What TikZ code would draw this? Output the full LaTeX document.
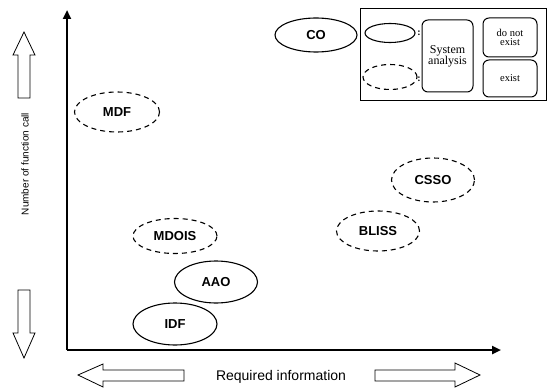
\documentclass[tikz,border=0pt]{standalone}
\usepackage{fontspec}
\setmainfont{Liberation Serif}
\setsansfont{Liberation Sans}
\usetikzlibrary{arrows.meta,shapes.geometric}
\begin{document}
\begin{tikzpicture}[x=1pt,y=-1pt,
  solidell/.style={draw,line width=1.1pt,ellipse,inner sep=0pt,font=\sffamily\bfseries\fontsize{13}{14}\selectfont},
  dashell/.style={solidell,dash pattern=on 5pt off 4pt},
  rbox/.style={draw,line width=1pt,rounded corners=6pt,align=center,inner sep=1pt,font=\fontsize{12}{11}\selectfont},
  blockarrow/.style={draw,line width=0.8pt,fill=white},
  axis/.style={line width=2.6pt,-{Triangle[length=9pt,width=8pt]}}]
\useasboundingbox (0,0) rectangle (548,390);
% axes
\coordinate (corner) at (67,350);
\coordinate (ytip) at (67,10);
\coordinate (xtip) at (501,350);
\draw[axis] (corner) -- (ytip);
\draw[axis] (corner) -- (xtip);
% vertical block arrows
\draw[blockarrow] (18,98) -- (18,55) -- (13,55) -- (24,32) -- (35,55) -- (30,55) -- (30,98) -- cycle;
\draw[blockarrow] (18,290) -- (18,333) -- (13,333) -- (24,358) -- (35,333) -- (30,333) -- (30,290) -- cycle;
\node[rotate=90,font=\sffamily\fontsize{10}{12}\selectfont] (ylab) at (25,164) {Number of function call};
% horizontal block arrows
\draw[blockarrow] (184,370) -- (103,370) -- (103,364) -- (78,375) -- (103,387) -- (103,381) -- (184,381) -- cycle;
\draw[blockarrow] (375,370) -- (455,370) -- (455,363) -- (480,375) -- (455,387) -- (455,381) -- (375,381) -- cycle;
\node[font=\sffamily\fontsize{14}{14}\selectfont] (xlab) at (281,377) {Required information};
% method ellipses
\node[solidell,minimum width=82pt,minimum height=34pt] (co) at (316,35) {CO};
\node[dashell,minimum width=85pt,minimum height=40pt] (mdf) at (117,112) {MDF};
\node[dashell,minimum width=84pt,minimum height=35pt] (mdois) at (175,236) {MDOIS};
\node[solidell,minimum width=83pt,minimum height=42pt] (aao) at (216,282) {AAO};
\node[solidell,minimum width=84pt,minimum height=42pt] (idf) at (175,324) {IDF};
\node[dashell,minimum width=83pt,minimum height=44pt] (csso) at (433,180) {CSSO};
\node[dashell,minimum width=83pt,minimum height=40pt] (bliss) at (378,231) {BLISS};
% legend
\draw[line width=1pt] (360,9) rectangle (546,101);
\node[solidell,minimum width=50pt,minimum height=19pt] (legsolid) at (390,33) {};
\node[dashell,minimum width=54pt,minimum height=25pt] (legdash) at (390,77) {};
\node[font=\bfseries\fontsize{10}{10}\selectfont] (c1) at (419,33) {:};
\node[font=\bfseries\fontsize{10}{10}\selectfont] (c2) at (419,79) {:};
\node[rbox,minimum width=51pt,minimum height=72pt] (sys) at (447.5,56) {System\\analysis};
\node[rbox,minimum width=54pt,minimum height=39pt,font=\fontsize{10.5}{9.5}\selectfont] (dne) at (510,37.5) {do not\\exist};
\node[rbox,minimum width=54pt,minimum height=37pt,font=\fontsize{10.5}{10}\selectfont] (ex) at (510,78.5) {exist};
\end{tikzpicture}
\end{document}
